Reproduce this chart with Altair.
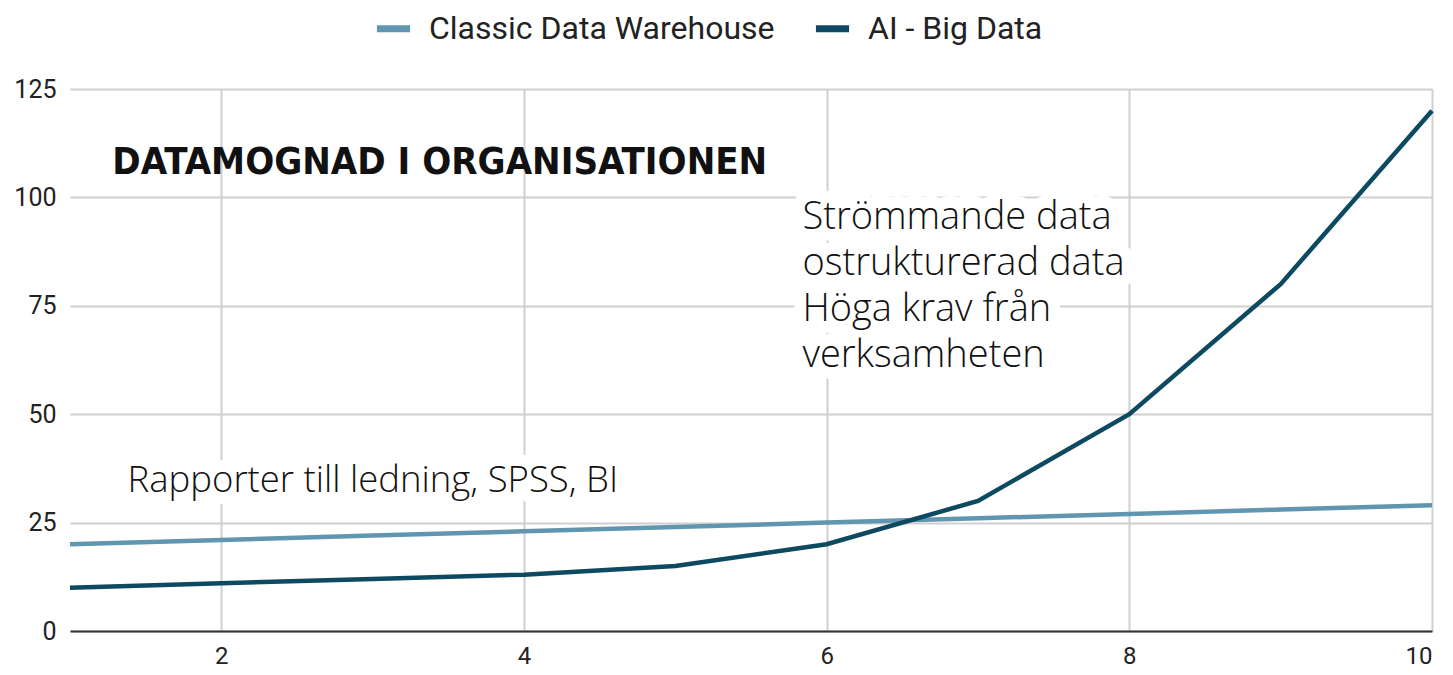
import altair as alt
import pandas as pd

x_vals = [1, 2, 3, 4, 5, 6, 7, 8, 9, 10]
classic = [20, 21, 22, 23, 24, 25, 26, 27, 28, 29]
ai_big = [10, 11, 12, 13, 15, 20, 30, 50, 80, 120]
series_names = ["Classic Data Warehouse", "AI - Big Data"]
series_colors = ["#6096b0", "#0d4a61"]

title_text = ["DATAMOGNAD I ORGANISATIONEN"]
title_x = [1.28]
title_y = [107.9]

ann_texts = [["Strömmande data", "ostrukturerad data", "Höga krav från", "verksamheten"],
             ["Rapporter till ledning, SPSS, BI"]]
ann_x = [5.84, 1.38]
ann_y = [99.6, 34.6]

rows = []
for xv, c, a in zip(x_vals, classic, ai_big):
    rows.append({"x": xv, "y": c, "series": series_names[0]})
    rows.append({"x": xv, "y": a, "series": series_names[1]})
df = pd.DataFrame(rows)

ann1 = pd.DataFrame({"x": [ann_x[0]], "y": [ann_y[0]], "t": [ann_texts[0]]})
ann2 = pd.DataFrame({"x": [ann_x[1]], "y": [ann_y[1]], "t": [ann_texts[1][0]]})
tdf = pd.DataFrame({"x": title_x, "y": title_y, "t": title_text})

xs = alt.Scale(domain=[1, 10], nice=False, zero=False)
ys = alt.Scale(domain=[0, 125], nice=False)

lines = alt.Chart(df).mark_line(strokeWidth=4.5).encode(
    x=alt.X("x:Q", scale=xs, axis=alt.Axis(values=[2, 4, 6, 8, 10], format="d", title=None,
                                            grid=True, ticks=False, domain=True,
                                            domainColor="#333333", domainWidth=2,
                                            labelFontSize=24, labelColor="#222222",
                                            labelFont="Roboto", labelPadding=13,
                                            gridColor="#d0d0d0", gridWidth=2)),
    y=alt.Y("y:Q", scale=ys, axis=alt.Axis(values=[0, 25, 50, 75, 100, 125], title=None,
                                            ticks=False, domain=False, labelFontSize=25,
                                            labelColor="#222222", labelFont="Roboto",
                                            labelPadding=14, gridColor="#d0d0d0", gridWidth=2)),
    color=alt.Color("series:N", scale=alt.Scale(domain=series_names, range=series_colors),
                    sort=series_names,
                    legend=alt.Legend(title=None, orient="none", legendX=303, legendY=-81,
                                      direction="horizontal", symbolType="stroke",
                                      symbolStrokeWidth=7, symbolSize=1100, labelFontSize=32,
                                      labelFont="Roboto", labelColor="#222222", labelOffset=15,
                                      labelLimit=0, columnPadding=26, padding=0)),
    detail="series:N",
)

def text_layer(data, size, font, weight, baseline, halo=False, line_height=None):
    kw = dict(align="left", baseline=baseline, fontSize=size, font=font, fontWeight=weight,
              color="#111111")
    if line_height:
        kw["lineHeight"] = line_height
    if halo:
        kw.update(stroke="white", strokeWidth=24, strokeJoin="round", color="white")
    return alt.Chart(data).mark_text(**kw).encode(
        x=alt.X("x:Q", scale=xs), y=alt.Y("y:Q", scale=ys), text="t")

ann_font = "Open Sans"
layers = [
    text_layer(ann1, 38, ann_font, 300, "top", halo=True, line_height=46),
    text_layer(ann2, 36.5, ann_font, 300, "middle", halo=True),
    lines,
    text_layer(ann1, 38, ann_font, 300, "top", line_height=46),
    text_layer(ann2, 36.5, ann_font, 300, "middle"),
    text_layer(tdf, 38, "DejaVu Sans Condensed", "bold", "middle"),
]

chart = alt.layer(*layers).properties(
    width=1362, height=542,
    autosize=alt.AutoSizeParams(type="none"),
    padding={"left": 62, "top": 81, "right": 13, "bottom": 44},
).configure_view(stroke=None)

chart.save("out.html", embed_options={"renderer": "svg", "actions": False})
